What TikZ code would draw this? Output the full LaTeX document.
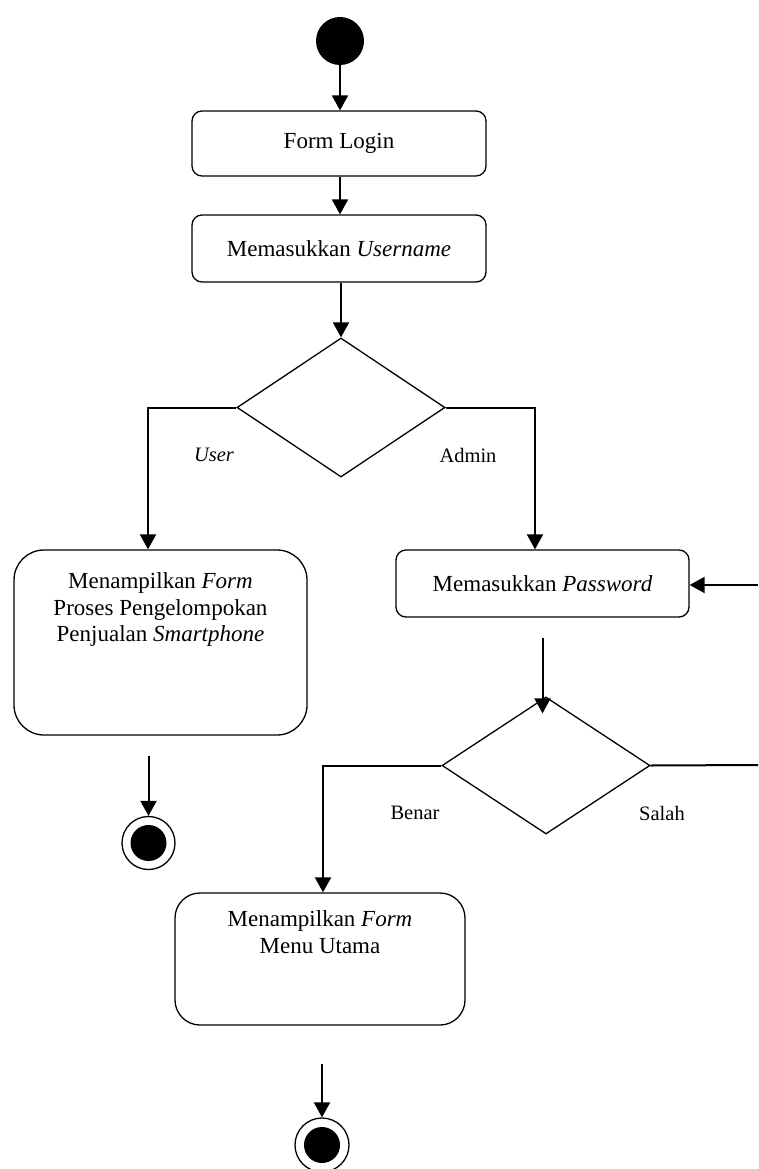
\documentclass[tikz,border=0pt]{standalone}
\usepackage{fontspec}
\setmainfont{Liberation Serif}
\usetikzlibrary{shapes.geometric, arrows.meta, positioning}
\tikzstyle{activity} = [rectangle, rounded corners=10pt, draw=black, line width=1.3pt, minimum width=294pt, minimum height=65pt, align=center, font=\fontsize{23}{26.5}\selectfont]
\tikzstyle{decision} = [diamond, draw=black, line width=1.3pt, minimum width=208pt, minimum height=139pt, inner sep=0pt]
\tikzstyle{arrow} = [line width=2pt, -{Triangle[width=16pt,length=15pt]}]
\tikzstyle{flow} = [line width=2pt]
\tikzstyle{guard} = [font=\fontsize{20.5}{24}\selectfont]
\tikzstyle{startNode} = [circle, fill=black, minimum size=48pt, inner sep=0pt]
\tikzstyle{endNode} = [circle, draw=black, line width=1.3pt, minimum size=54pt, inner sep=0pt, path picture={\fill[black] (path picture bounding box.center) circle (18pt);}]
\begin{document}
\begin{tikzpicture}[x=1pt, y=-1pt]
\useasboundingbox (0,0) rectangle (758,1169);
% nodes
\node (start) [startNode] at (340,41) {};
\node (login) [activity] at (339,143.5) {Form Login};
\node (uname) [activity, minimum height=67pt] at (339,248.5) {Memasukkan \textit{Username}};
\node (dec1) [decision] at (341,407.5) {};
\node (uform) [activity, rounded corners=30pt, minimum width=293pt, minimum height=185pt,
  label={[anchor=north, yshift=-20pt, align=center, font=\fontsize{23}{26.5}\selectfont]north:Menampilkan \textit{Form}\\Proses Pengelompokan\\Penjualan \textit{Smartphone}}] at (160.5,642.5) {};
\node (pass) [activity, minimum width=293pt, minimum height=67pt] at (542.5,583.5) {Memasukkan \textit{Password}};
\node (dec2) [decision, minimum height=137pt] at (546,765.5) {};
\node (menu) [activity, rounded corners=25pt, minimum width=290pt, minimum height=132pt,
  label={[anchor=north, yshift=-15pt, align=center, font=\fontsize{23}{26.5}\selectfont]north:Menampilkan \textit{Form}\\Menu Utama}] at (320,959) {};
\node (end1) [endNode, minimum size=53pt] at (148.5,843) {};
\node (end2) [endNode] at (322,1145) {};
% guards
\node (gUser) [guard] at (214,455) {\textit{User}};
\node (gAdmin) [guard] at (468,455) {Admin};
\node (gBenar) [guard] at (415,813) {Benar};
\node (gSalah) [guard] at (662,813) {Salah};
% helper points
\coordinate (passTop) at ([yshift=-20pt]pass.south);
\coordinate (dec2In) at ([yshift=-17pt]dec2.north);
\coordinate (uformBot) at ([yshift=-20pt]uform.south);
\coordinate (menuBot) at ([yshift=-38pt]menu.south);
\coordinate (loopIn) at (758,585);
\coordinate (loopOut) at (758,765);
% connectors
\draw [arrow] (start) -- (start |- login.north);
\draw [arrow] (login.south -| start) -- (uname.north -| start);
\draw [arrow] (uname.south -| dec1) -- (dec1.north);
\draw [arrow] (dec1.west) -| ([xshift=-12.5pt]uform.north);
\draw [arrow] (dec1.east) -| ([xshift=-7.5pt]pass.north);
\draw [arrow] (loopIn) -- (loopIn -| pass.east);
\draw [arrow] (passTop) -- (passTop |- dec2In);
\draw [flow] (dec2.east) -- (loopOut);
\draw [arrow] (dec2.west) -| ([xshift=3pt]menu.north);
\draw [arrow] (uformBot -| end1) -- (end1);
\draw [arrow] (menuBot -| end2) -- (end2);
\end{tikzpicture}
\end{document}
